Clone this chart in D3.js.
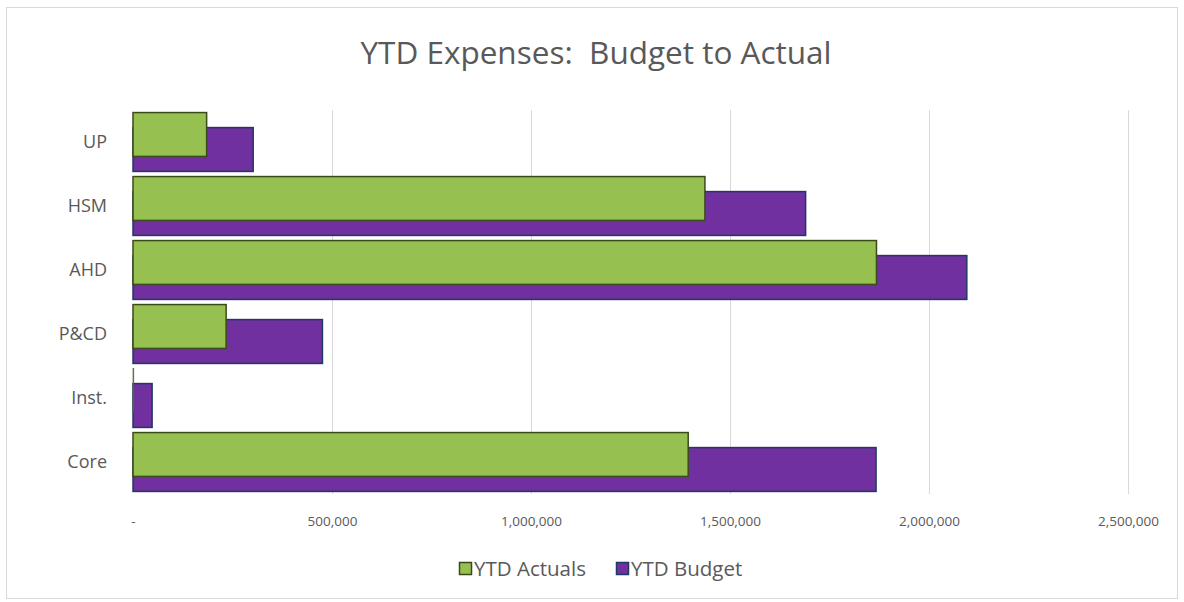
<!DOCTYPE html>
<meta charset="utf-8">
<html>
<head>
<script src="https://cdn.jsdelivr.net/npm/d3@7"></script>
<style>
body { margin: 0; background: #fff; }
text { font-family: 'Open Sans', sans-serif; fill: #595959; }
</style>
</head>
<body>
<div id="my_dataviz"></div>
<script>

// data, bottom to top as in the sheet
var categories = ["Core", "Inst.", "P&CD", "AHD", "HSM", "UP"];
var actuals = [1395000, 2000, 234000, 1868000, 1437000, 185000];
var budget = [1867000, 48000, 476000, 2095000, 1690000, 302000];
var xTicks = [0, 500000, 1000000, 1500000, 2000000, 2500000];
var seriesNames = ["YTD Actuals", "YTD Budget"];

var W = 1184, H = 602;
var margin = {top: 110, right: 56, bottom: 108, left: 133},
    width = W - margin.left - margin.right,
    height = H - margin.top - margin.bottom;

var svg = d3.select("#my_dataviz")
  .append("svg")
  .attr("width", W)
  .attr("height", H);

// chart border
svg.append("rect")
  .attr("x", 6.5).attr("y", 7.5)
  .attr("width", 1171).attr("height", 591)
  .attr("fill", "#fff")
  .attr("stroke", "#d9d9d9");

svg.append("text")
  .attr("x", 596).attr("y", 64)
  .attr("text-anchor", "middle")
  .style("font-size", "31.5px")
  .style("white-space", "pre")
  .text("YTD Expenses:  Budget to Actual");

var g = svg.append("g")
  .attr("transform", "translate(" + margin.left + "," + margin.top + ")");

var x = d3.scaleLinear().domain([0, 2500000]).range([0, width]);

// top category first on screen
var y = d3.scaleBand()
  .domain(categories.slice().reverse())
  .range([0, height])
  .paddingInner(0.08)
  .paddingOuter(0.04);

// gridlines
g.selectAll(".grid")
  .data(xTicks.slice(1))
  .enter().append("line")
  .attr("x1", function(d) { return Math.round(x(d)) + 0.5; })
  .attr("x2", function(d) { return Math.round(x(d)) + 0.5; })
  .attr("y1", 0).attr("y2", height)
  .attr("stroke", "#d9d9d9");

// x axis labels
var xAxis = g.append("g")
  .attr("transform", "translate(0," + (height + 19) + ")")
  .call(d3.axisBottom(x).tickValues(xTicks).tickSize(0)
    .tickFormat(function(d) { return d === 0 ? "-" : d3.format(",")(d); }));
xAxis.select(".domain").remove();
xAxis.selectAll("text").style("font-size", "13.5px").attr("fill", "#595959");

// y axis labels
var yAxis = g.append("g")
  .attr("transform", "translate(-23,0)")
  .call(d3.axisLeft(y).tickSize(0));
yAxis.select(".domain").remove();
yAxis.selectAll("text").style("font-size", "18px").attr("fill", "#595959");

var barH = y.bandwidth() * 0.745;
var shift = y.bandwidth() - barH;

// budget bars (behind)
g.selectAll(".budget")
  .data(categories)
  .enter().append("rect")
  .attr("x", x(0))
  .attr("y", function(d) { return y(d) + shift; })
  .attr("width", function(d, i) { return x(budget[i]) - x(0); })
  .attr("height", barH)
  .attr("fill", "#7030a0")
  .attr("stroke", "#203864")
  .attr("stroke-width", 1.5);

// actual bars (in front)
g.selectAll(".actual")
  .data(categories)
  .enter().append("rect")
  .attr("x", x(0))
  .attr("y", function(d) { return y(d); })
  .attr("width", function(d, i) { return x(actuals[i]) - x(0); })
  .attr("height", barH)
  .attr("fill", "#96c150")
  .attr("stroke", "#3b4a1a")
  .attr("stroke-width", function(d, i) { return actuals[i] < 10000 ? 0.6 : 1.5; });

// legend
var legendColors = [["#96c150", "#3b4a1a"], ["#7030a0", "#203864"]];
var legendX = [459, 616];
seriesNames.forEach(function(name, i) {
  svg.append("rect")
    .attr("x", legendX[i] + 0.5).attr("y", 562.5)
    .attr("width", 12).attr("height", 12)
    .attr("fill", legendColors[i][0])
    .attr("stroke", legendColors[i][1])
    .attr("stroke-width", 1.5);
  svg.append("text")
    .attr("x", legendX[i] + 15).attr("y", 576)
    .style("font-size", "20.5px")
    .text(name);
});

</script>
</body>
</html>
